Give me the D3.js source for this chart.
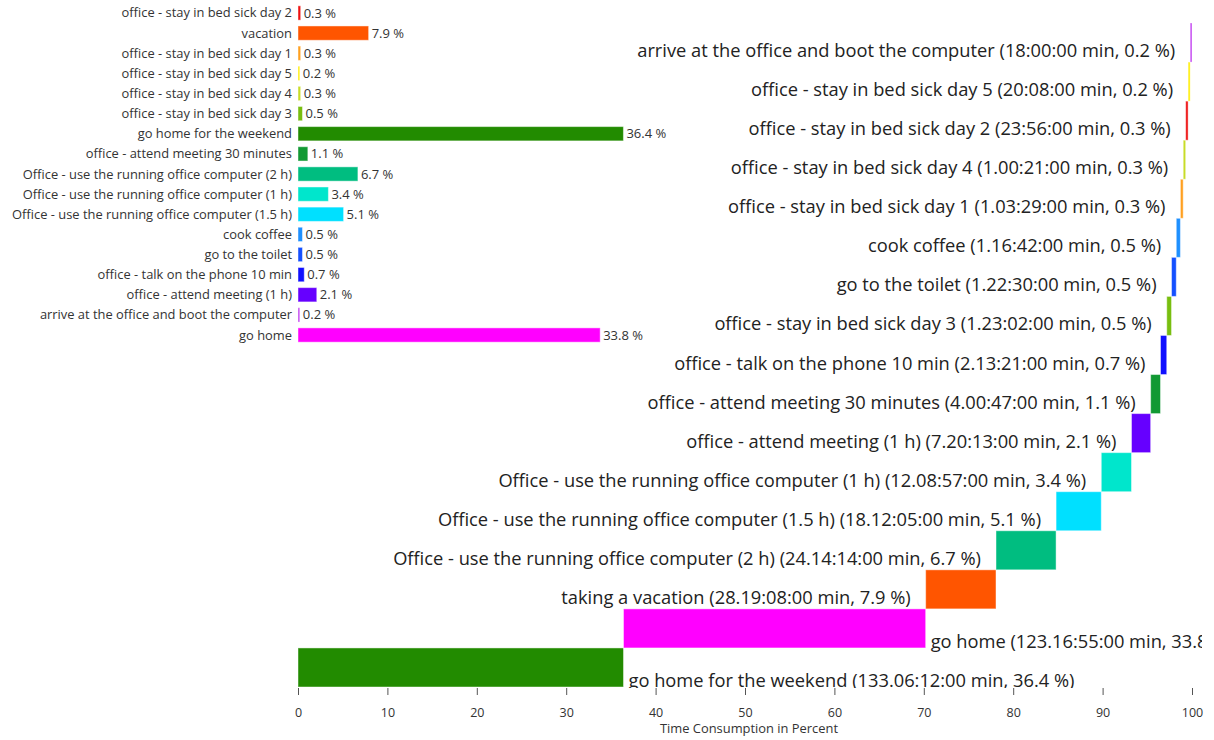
<!DOCTYPE html>
<html>
<head>
<meta charset="utf-8">
<script src="https://cdn.jsdelivr.net/npm/d3@7"></script>
<style>
  body { margin: 0; background: #fff; }
  svg { display: block; font-family: "Segoe UI", "Open Sans", sans-serif; }
</style>
</head>
<body>
<div id="chart"></div>
<script>
// Activities in stacking order (bottom of the waterfall first)
const activities = [
  "go home for the weekend",
  "go home",
  "taking a vacation",
  "Office - use the running office computer (2 h)",
  "Office - use the running office computer (1.5 h)",
  "Office - use the running office computer (1 h)",
  "office - attend meeting (1 h)",
  "office - attend meeting 30 minutes",
  "office - talk on the phone 10 min",
  "office - stay in bed sick day 3",
  "go to the toilet",
  "cook coffee",
  "office - stay in bed sick day 1",
  "office - stay in bed sick day 4",
  "office - stay in bed sick day 2",
  "office - stay in bed sick day 5",
  "arrive at the office and boot the computer"
];
const durations = [
  "133.06:12:00", "123.16:55:00", "28.19:08:00", "24.14:14:00", "18.12:05:00",
  "12.08:57:00", "7.20:13:00", "4.00:47:00", "2.13:21:00", "1.23:02:00",
  "1.22:30:00", "1.16:42:00", "1.03:29:00", "1.00:21:00", "23:56:00",
  "20:08:00", "18:00:00"
];
const percents = [36.4, 33.8, 7.9, 6.7, 5.1, 3.4, 2.1, 1.1, 0.7, 0.5, 0.5, 0.5, 0.3, 0.3, 0.3, 0.2, 0.2];

// Small bar chart (top left), top to bottom
const leftLabels = [
  "office - stay in bed sick day 2",
  "vacation",
  "office - stay in bed sick day 1",
  "office - stay in bed sick day 5",
  "office - stay in bed sick day 4",
  "office - stay in bed sick day 3",
  "go home for the weekend",
  "office - attend meeting 30 minutes",
  "Office - use the running office computer (2 h)",
  "Office - use the running office computer (1 h)",
  "Office - use the running office computer (1.5 h)",
  "cook coffee",
  "go to the toilet",
  "office - talk on the phone 10 min",
  "office - attend meeting (1 h)",
  "arrive at the office and boot the computer",
  "go home"
];
const leftValues = [0.3, 7.9, 0.3, 0.2, 0.3, 0.5, 36.4, 1.1, 6.7, 3.4, 5.1, 0.5, 0.5, 0.7, 2.1, 0.2, 33.8];

const ticks = [0, 10, 20, 30, 40, 50, 60, 70, 80, 90, 100];

// colours per activity (same order as activities)
const palette = [
  "#228b00", "#ff00ff", "#ff5500", "#00bd80", "#00e0ff", "#00e6cc", "#6600ff",
  "#119933", "#1010ff", "#78be10", "#1450ff", "#1e90ff", "#ffa020", "#c8dc28",
  "#ee1111", "#ffee00", "#c03cf0"
];

const w = 1214;
const h = 740;

const color = d3.scaleOrdinal().domain(activities).range(palette);
const colorOf = name => color(name === "vacation" ? "taking a vacation" : name);

// duration "d.hh:mm:ss" -> hours
const toHours = s => {
  const parts = s.split(":");
  let days = 0, hh = parts[0];
  if (hh.includes(".")) { days = +hh.split(".")[0]; hh = hh.split(".")[1]; }
  return days * 24 + (+hh) + (+parts[1]) / 60 + (+parts[2]) / 3600;
};

const hours = durations.map(toHours);
const total = d3.sum(hours);
let acc = 0;
const steps = activities.map((name, i) => {
  const share = hours[i] / total * 100;
  const d = { name: name, dur: durations[i], pct: percents[i], x0: acc, x1: acc + share };
  acc += share;
  return d;
});

const svg = d3.select("#chart")
  .append("svg")
  .attr("width", w)
  .attr("height", h);

const xScale = d3.scaleLinear().domain([0, 100]).range([298, 1192]);

/************************************
 * Waterfall (right, full height)
 ************************************/
const yStep = d3.scaleBand()
  .domain(activities.slice().reverse())
  .range([23, 687])
  .padding(0);

svg.append("clipPath")
  .attr("id", "plotClip")
  .append("rect")
  .attr("x", 0)
  .attr("y", 0)
  .attr("width", 1202)
  .attr("height", 688);

const plot = svg.append("g").attr("clip-path", "url(#plotClip)");

plot.selectAll("rect.step")
  .data(steps)
  .enter()
  .append("rect")
  .attr("class", "step")
  .attr("x", d => xScale(d.x0))
  .attr("y", d => yStep(d.name))
  .attr("width", d => xScale(d.x1) - xScale(d.x0))
  .attr("height", yStep.bandwidth())
  .style("fill", d => color(d.name))
  .style("stroke", "#fff")
  .style("stroke-opacity", 0.45)
  .style("stroke-width", 1);

plot.selectAll("text.step-label")
  .data(steps)
  .enter()
  .append("text")
  .attr("class", "step-label")
  .attr("x", d => d.x0 > 50 ? xScale(d.x0) - 15 : xScale(d.x1) + 5)
  .attr("y", d => yStep(d.name) + yStep.bandwidth() - (d.x0 > 50 ? 5 : 0))
  .attr("text-anchor", d => d.x0 > 50 ? "end" : "start")
  .style("font-size", "18.3px")
  .style("fill", "#222")
  .text(d => d.name + " (" + d.dur + " min, " + d.pct + " %)");

/************************************
 * Bar chart (top left)
 ************************************/
const yBar = d3.scaleBand()
  .domain(leftLabels)
  .range([0, 348])
  .padding(0.29);

const bars = svg.append("g");

bars.selectAll("rect")
  .data(leftLabels)
  .enter()
  .append("rect")
  .attr("x", xScale(0))
  .attr("y", d => yBar(d))
  .attr("width", (d, i) => xScale(leftValues[i]) - xScale(0))
  .attr("height", yBar.bandwidth())
  .style("fill", d => colorOf(d))
  .style("stroke", "#fff")
  .style("stroke-opacity", 0.45);

bars.selectAll("text.name")
  .data(leftLabels)
  .enter()
  .append("text")
  .attr("class", "name")
  .attr("x", xScale(0) - 6)
  .attr("y", d => yBar(d) + yBar.bandwidth() / 2)
  .attr("dy", "0.35em")
  .attr("text-anchor", "end")
  .style("font-size", "12.9px")
  .style("fill", "#333")
  .text(d => d);

bars.selectAll("text.value")
  .data(leftLabels)
  .enter()
  .append("text")
  .attr("class", "value")
  .attr("x", (d, i) => xScale(leftValues[i]) + 3)
  .attr("y", d => yBar(d) + yBar.bandwidth() / 2)
  .attr("dy", "0.35em")
  .style("font-size", "13px")
  .style("fill", "#333")
  .text((d, i) => leftValues[i] + " %");

/************************************
 * Axis
 ************************************/
const xAxis = d3.axisBottom(xScale)
  .tickValues(ticks)
  .tickSize(7)
  .tickPadding(13);

const axis = svg.append("g")
  .attr("transform", "translate(0,688)")
  .call(xAxis);

axis.select(".domain").remove();
axis.selectAll(".tick line").style("stroke", "#555");
axis.selectAll(".tick text")
  .style("font-family", "\"Segoe UI\", \"Open Sans\", sans-serif")
  .style("font-size", "12.5px")
  .style("fill", "#333");

svg.append("text")
  .attr("x", 749)
  .attr("y", 733)
  .attr("text-anchor", "middle")
  .style("font-size", "12.9px")
  .style("fill", "#333")
  .text("Time Consumption in Percent");
</script>
</body>
</html>
